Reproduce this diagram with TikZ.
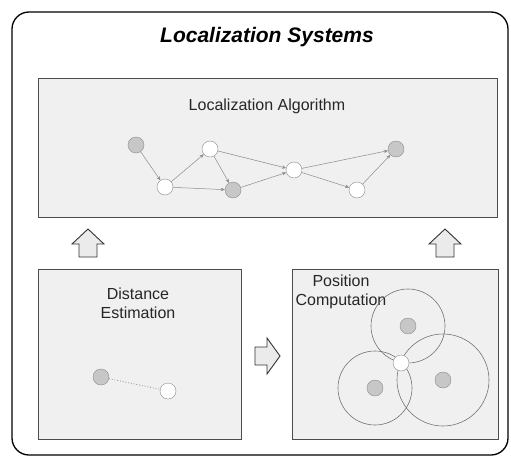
\documentclass[tikz,border=0pt]{standalone}
\usepackage{fontspec}
\setmainfont{Liberation Sans}
\usetikzlibrary{arrows.meta}
\begin{document}
\begin{tikzpicture}[x=1pt,y=-1pt]
    \tikzset{
        panel/.style={draw=black!70, fill=black!6, line width=1pt},
        anchornode/.style={circle, draw=black!45, fill=black!22, minimum size=16pt, inner sep=0pt},
        blindnode/.style={circle, draw=black!45, fill=white, minimum size=16pt, inner sep=0pt},
        hop/.style={draw=black!45, line width=0.5pt, -{Stealth[length=4pt,width=3.5pt]}},
        rangecircle/.style={draw=black!55, line width=0.6pt},
        bigarrow/.style={draw=black!80, fill=black!8, line width=0.9pt, line join=miter},
        caption/.style={font=\fontsize{16}{19}\selectfont, align=center, text=black!85}}
    \def\uparrowpath{(0,-14) -- (16,1) -- (9,1) -- (9,14) -- (-9,14) -- (-9,1) -- (-16,1) -- cycle}
    \def\rightarrowpath{(13,0) -- (0,18) -- (0,9) -- (-12,9) -- (-12,-9) -- (0,-9) -- (0,-18) -- cycle}
    \useasboundingbox (0,0) rectangle (511,463);
    % outer frame
    \draw [line width=1.3pt, rounded corners=17pt] (12,12) rectangle (508,455);
    \node [font=\fontsize{21}{24}\selectfont\bfseries\itshape, anchor=base] (title) at (267,42) {Localization Systems};
    % the three stages
    \draw [panel] (38,78) rectangle (497,217);
    \draw [panel] (38,269) rectangle (241,439);
    \draw [panel] (292,269) rectangle (498,439);
    \node [caption, anchor=base] (algo) at (267,110) {Localization Algorithm};
    \node [caption] (dist) at (138,303) {Distance\\Estimation};
    \node [caption] (pos) at (341,292) {Position\\Computation};
    % block arrows between stages
    \draw [bigarrow, shift={(88,243)}] \uparrowpath;
    \draw [bigarrow, shift={(445,243)}] \uparrowpath;
    \draw [bigarrow, shift={(267,356)}] \rightarrowpath;
    % multihop network
    \node [anchornode] (n1) at (136,145) {};
    \node [blindnode] (n2) at (165,187) {};
    \node [blindnode] (n3) at (210,149) {};
    \node [anchornode] (n4) at (233,190) {};
    \node [blindnode] (n5) at (294,170) {};
    \node [blindnode] (n6) at (357,190) {};
    \node [anchornode] (n7) at (396,149) {};
    \foreach \a/\b in {n1/n2, n2/n3, n2/n4, n3/n4, n3/n5, n4/n5, n5/n7, n5/n6, n6/n7}
        \draw [hop] (\a) -- (\b);
    % ranging between two nodes
    \node [anchornode] (d1) at (101,377) {};
    \node [blindnode] (d2) at (168,391) {};
    \draw [draw=black!45, dotted, line width=0.8pt] (d1) -- (d2);
    % trilateration
    \node [anchornode] (p1) at (408,326) {};
    \node [anchornode] (p2) at (375,388) {};
    \node [anchornode] (p3) at (443,380) {};
    \draw [rangecircle] (p1) circle [radius=37pt];
    \draw [rangecircle] (p2) circle [radius=37pt];
    \draw [rangecircle] (p3) circle [radius=46pt];
    \node [blindnode] (p0) at (401,363) {};
\end{tikzpicture}
\end{document}
